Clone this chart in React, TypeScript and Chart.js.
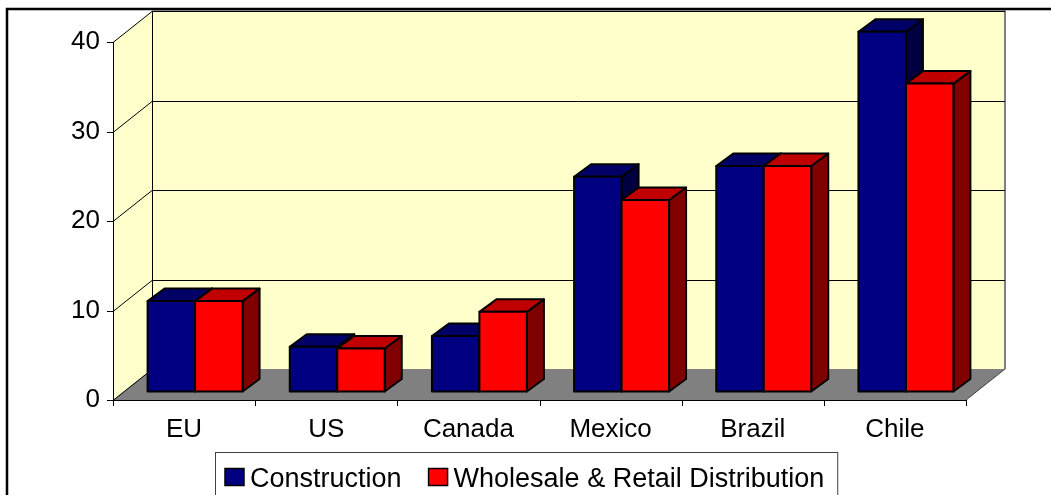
import { useEffect, useRef } from "react";
import { Chart, registerables } from "chart.js";

Chart.register(...registerables);

const categories = ["EU", "US", "Canada", "Mexico", "Brazil", "Chile"];
const construction = [10.1, 5.0, 6.2, 24.0, 25.2, 40.2];
const wholesaleRetail = [10.1, 4.8, 8.9, 21.4, 25.2, 34.4];
const seriesNames = ["Construction", "Wholesale & Retail Distribution"];
const yTicks = [0, 10, 20, 30, 40];

const FONT = "'Liberation Sans', Arial, sans-serif";
const DEPTH = { dx: 39, dy: 31 };
const BAR_OFF = { dx: 11, dy: 8.5 };
const BAR_DEPTH = { dx: 17, dy: 12.5 };
const COLORS = [
  { front: "#000080", top: "#000066", side: "#000040" },
  { front: "#ff0000", top: "#c00000", side: "#800000" },
];

function poly(ctx: CanvasRenderingContext2D, pts: number[][]) {
  ctx.beginPath();
  ctx.moveTo(pts[0][0], pts[0][1]);
  for (let i = 1; i < pts.length; i++) ctx.lineTo(pts[i][0], pts[i][1]);
  ctx.closePath();
}

function seg(ctx: CanvasRenderingContext2D, x1: number, y1: number, x2: number, y2: number) {
  ctx.beginPath();
  ctx.moveTo(x1, y1);
  ctx.lineTo(x2, y2);
  ctx.stroke();
}

const threeD = {
  id: "threeD",
  beforeDraw(chart: any) {
    const ctx = chart.ctx as CanvasRenderingContext2D;
    ctx.save();
    ctx.fillStyle = "#ffffff";
    ctx.fillRect(0, 0, chart.width, chart.height);
    ctx.strokeStyle = "#000";
    ctx.lineWidth = 2.5;
    ctx.strokeRect(7, 9, chart.width + 50, chart.height + 50);
    ctx.restore();
  },
  beforeDatasetsDraw(chart: any) {
    const ctx = chart.ctx as CanvasRenderingContext2D;
    const a = chart.chartArea;
    const ys = chart.scales.y;
    const xs = chart.scales.x;
    const L = a.left, R = a.right, T = a.top, B = a.bottom;
    const dx = DEPTH.dx, dy = DEPTH.dy;
    ctx.save();
    // walls
    ctx.fillStyle = "#ffffcc";
    poly(ctx, [[L, T], [L + dx, T - dy], [L + dx, B - dy], [L, B]]);
    ctx.fill();
    ctx.fillRect(L + dx, T - dy, R - L, B - T);
    // floor
    ctx.fillStyle = "#808080";
    poly(ctx, [[L, B], [R, B], [R + dx, B - dy], [L + dx, B - dy]]);
    ctx.fill();
    // wall outline (gray)
    ctx.strokeStyle = "#808080";
    ctx.lineWidth = 2;
    ctx.beginPath();
    ctx.moveTo(L + dx, T - dy);
    ctx.lineTo(R + dx, T - dy);
    ctx.lineTo(R + dx, B - dy);
    ctx.stroke();
    // gridlines
    ctx.strokeStyle = "#000";
    ctx.lineWidth = 1;
    for (const v of yTicks) {
      const py = Math.round(ys.getPixelForValue(v)) + 0.5;
      ctx.beginPath();
      ctx.moveTo(L, py);
      ctx.lineTo(L + dx, py - dy);
      if (v !== 0) ctx.lineTo(R + dx, py - dy);
      ctx.stroke();
    }
    seg(ctx, L + dx + 0.5, T - dy, L + dx + 0.5, B - dy);
    ctx.strokeStyle = "#404040";
    seg(ctx, R, B, R + dx, B - dy);
    // axes
    ctx.strokeStyle = "#000";
    ctx.lineWidth = 1;
    seg(ctx, L + 0.5, T, L + 0.5, B + 0.5);
    seg(ctx, L, B + 0.5, R, B + 0.5);
    for (const v of yTicks) {
      const py = Math.round(ys.getPixelForValue(v)) + 0.5;
      seg(ctx, L - 6, py, L, py);
    }
    const n = categories.length;
    for (let k = 0; k <= n; k++) {
      let px: number;
      if (k === 0) px = L;
      else if (k === n) px = R;
      else px = (xs.getPixelForValue(k - 1) + xs.getPixelForValue(k)) / 2;
      px = Math.round(px) + 0.5;
      seg(ctx, px, B, px, B + 6);
    }
    // bars
    ctx.lineJoin = "round";
    const metas = chart.data.datasets.map((_: any, i: number) => chart.getDatasetMeta(i));
    for (let i = 0; i < n; i++) {
      metas.forEach((meta: any, d: number) => {
        const el = meta.data[i];
        const p = el.getProps(["x", "y", "base", "width"], true);
        const c = COLORS[d];
        const left = p.x - p.width / 2 + BAR_OFF.dx;
        const right = p.x + p.width / 2 + BAR_OFF.dx;
        const top = p.y - BAR_OFF.dy;
        const bottom = p.base - BAR_OFF.dy;
        const bdx = BAR_DEPTH.dx, bdy = BAR_DEPTH.dy;
        ctx.lineWidth = 2;
        ctx.strokeStyle = "#000";
        poly(ctx, [[right, top], [right + bdx, top - bdy], [right + bdx, bottom - bdy], [right, bottom]]);
        ctx.fillStyle = c.side;
        ctx.fill();
        ctx.stroke();
        poly(ctx, [[left, top], [left + bdx, top - bdy], [right + bdx, top - bdy], [right, top]]);
        ctx.fillStyle = c.top;
        ctx.fill();
        ctx.stroke();
        poly(ctx, [[left, top], [right, top], [right, bottom], [left, bottom]]);
        ctx.fillStyle = c.front;
        ctx.fill();
        ctx.stroke();
      });
    }
    ctx.restore();
    return false;
  },
  afterDraw(chart: any) {
    const ctx = chart.ctx as CanvasRenderingContext2D;
    ctx.save();
    ctx.font = `27px ${FONT}`;
    const items = chart.data.datasets.map((ds: any) => ({
      label: ds.label as string,
      color: ds.backgroundColor as string,
      w: ctx.measureText(ds.label).width,
    }));
    const keyW = 19, keyH = 17, keyGap = 6, itemGap = 27, padL = 10, padR = 13;
    const total =
      padL + padR +
      items.reduce((s: number, it: any) => s + keyW + keyGap + it.w, 0) +
      itemGap * (items.length - 1);
    const left = Math.round(chart.width / 2 + 1 - total / 2);
    const top = Math.round(chart.chartArea.bottom + 52);
    ctx.fillStyle = "#fff";
    ctx.fillRect(left, top, total, 100);
    ctx.strokeStyle = "#404040";
    ctx.lineWidth = 1;
    ctx.strokeRect(left + 0.5, top + 0.5, total, 100);
    let xx = left + padL;
    const cy = top + 25;
    items.forEach((it: any) => {
      ctx.fillStyle = it.color;
      ctx.fillRect(xx, cy - keyH / 2, keyW, keyH);
      ctx.strokeStyle = "#000";
      ctx.lineWidth = 1.5;
      ctx.strokeRect(xx, cy - keyH / 2, keyW, keyH);
      xx += keyW + keyGap;
      ctx.fillStyle = "#000";
      ctx.textBaseline = "alphabetic";
      ctx.textAlign = "left";
      ctx.fillText(it.label, xx, cy + 10);
      xx += it.w + itemGap;
    });
    ctx.restore();
  },
};

export default function App() {
  const ref = useRef<HTMLCanvasElement | null>(null);
  useEffect(() => {
    if (!ref.current) return;
    const chart = new Chart(ref.current, {
      type: "bar",
      data: {
        labels: categories,
        datasets: [
          { label: seriesNames[0], data: construction, backgroundColor: COLORS[0].front },
          { label: seriesNames[1], data: wholesaleRetail, backgroundColor: COLORS[1].front },
        ],
      },
      options: {
        responsive: false,
        animation: false,
        layout: { padding: { left: 0, top: 42, right: 85, bottom: 0 } },
        datasets: { bar: { categoryPercentage: 0.668, barPercentage: 1 } },
        plugins: { legend: { display: false }, tooltip: { enabled: false } },
        scales: {
          x: {
            grid: { display: false, drawTicks: false },
            border: { display: false },
            ticks: { padding: 14, color: "#000", font: { family: FONT, size: 26 } },
            afterFit: (s: any) => {
              s.height = 95;
            },
          },
          y: {
            min: 0,
            max: 40,
            grid: { display: false, drawTicks: false },
            border: { display: false },
            ticks: { stepSize: 10, padding: 13, color: "#000", font: { family: FONT, size: 26 } },
            afterBuildTicks: (s: any) => {
              s.ticks = yTicks.map((v) => ({ value: v }));
            },
            afterFit: (s: any) => {
              s.width = 113;
            },
          },
        },
      } as any,
      plugins: [threeD as any],
    });
    return () => chart.destroy();
  }, []);
  return (
    <div style={{ position: "absolute", left: 0, top: 0, width: 1051, height: 495, overflow: "hidden" }}>
      <canvas ref={ref} width={1051} height={495} style={{ display: "block" }} />
    </div>
  );
}
